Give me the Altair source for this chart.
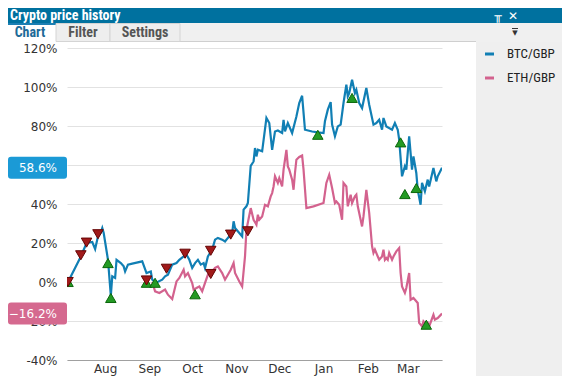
import altair as alt
import pandas as pd

# ---------------- data ----------------
START = "2022-07-06"            # day 0
SERIES = ["BTC/GBP", "ETH/GBP"]
LINE_COLORS = ["#117fb4", "#d3628e"]
BADGE_COLORS = ["#1b9ad6", "#d5698f"]
Y_TICKS = [-40, -20, 0, 20, 40, 60, 80, 100, 120]

btc_day = [0, 9, 13, 17, 19, 21, 23, 24, 25, 28,
           30, 31, 33, 34, 37, 39, 40, 42, 45, 52,
           55, 58, 59, 62, 66, 68, 70, 73, 76, 78,
           81, 83, 85, 87, 89, 91, 93, 95, 96, 98,
           101, 103, 105, 108, 110, 112, 115, 116, 117, 120,
           122, 123, 125, 126, 128, 130, 131, 132, 133, 136,
           139, 141, 143, 145, 147, 150, 151, 152, 154, 157,
           160, 162, 164, 166, 171, 175, 179, 180, 182, 184,
           185, 187, 189, 191, 193, 195, 196, 197, 199, 201,
           202, 204, 206, 209, 211, 214, 216, 218, 220, 221,
           223, 227, 229, 231, 232, 234, 236, 237, 239, 241,
           242, 244, 245, 247, 248, 250, 252, 253, 256, 258,
           259, 262]
btc_pct = [0, 13.1, 20.0, 20.5, 16.9, 23.4, 25.4, 27.7, 25.1, 11.4,
           -7.0, 2.9, 2.1, 11.4, 9.7, 8.0, 5.4, 8.9, 9.4, 10.6,
           4.6, 5.4, 1.2, -0.2, 1.2, 2.9, 3.7, 8.9, 9.7, 11.4,
           13.1, 14.0, 11.4, 7.2, 9.7, 11.4, 8.9, 9.7, 7.2, 13.1,
           16.6, 21.7, 22.6, 21.7, 20.8, 22.6, 25.1, 31.1, 27.7, 25.1,
           23.4, 37.1, 38.8, 40.5, 59.6, 61.8, 68.7, 64.4, 67.8, 67.0,
           84.1, 81.5, 67.8, 77.2, 77.7, 76.4, 83.2, 77.2, 81.5, 76.4,
           84.9, 91.8, 95.5, 78.1, 77.2, 76.7, 76.4, 82.4, 88.4, 92.3,
           80.7, 74.7, 79.8, 80.7, 91.8, 101.2, 95.2, 96.9, 103.7, 96.9,
           98.6, 91.8, 89.2, 99.5, 90.9, 80.7, 81.5, 83.2, 78.1, 84.1,
           79.8, 78.1, 81.5, 78.1, 73.0, 54.2, 59.3, 57.6, 74.7, 57.6,
           64.4, 55.9, 47.3, 39.6, 50.8, 46.5, 52.5, 49.0, 58.5, 51.6,
           54.2, 58.6]

eth_day = [59, 61, 64, 68, 70, 73, 76, 78, 81, 82,
           84, 87, 88, 90, 92, 94, 96, 98, 101, 103,
           105, 108, 110, 112, 114, 116, 117, 120, 122, 124,
           125, 128, 130, 132, 133, 134, 136, 138, 140, 142,
           143, 144, 145, 147, 148, 150, 151, 152, 153, 154,
           155, 157, 158, 159, 160, 162, 164, 165, 167, 172,
           179, 181, 183, 185, 187, 188, 190, 192, 193, 195,
           196, 198, 199, 201, 202, 203, 204, 206, 207, 209,
           211, 213, 214, 215, 217, 218, 220, 221, 222, 223,
           224, 225, 227, 228, 230, 232, 233, 234, 236, 237,
           239, 240, 242, 245, 246, 248, 249, 251, 252, 253,
           256, 257, 259, 262]
eth_pct = [0, -4.8, -5.6, -3.9, -6.5, -8.7, 0.3, 2.1, 6.3, 2.9,
           4.6, -0.5, -3.9, -3.1, -2.3, -4.8, -0.5, 3.7, 5.4, 7.2,
           8.0, 4.6, 1.2, 3.7, 6.3, 9.7, 4.6, 0.3, -2.3, 13.1,
           26.8, 37.9, 31.9, 29.4, 34.5, 31.9, 33.6, 39.6, 38.8, 43.9,
           45.6, 49.0, 54.2, 50.8, 53.3, 49.0, 57.6, 62.7, 67.8, 59.3,
           57.6, 52.5, 47.3, 55.9, 62.7, 64.1, 64.9, 57.6, 37.9, 38.8,
           40.5, 50.8, 55.0, 48.2, 40.5, 41.3, 39.6, 31.9, 50.8, 49.0,
           38.8, 44.8, 40.5, 43.9, 44.8, 38.8, 35.4, 28.5, 33.6, 47.3,
           35.4, 18.3, 14.9, 16.6, 13.1, 11.4, 13.1, 16.6, 11.4, 12.3,
           11.4, 14.9, 11.4, 13.1, 15.7, 17.4, 4.6, -2.3, -5.6, -3.1,
           4.6, -9.1, -8.2, -10.8, -21.0, -22.8, -20.2, -21.9, -21.0, -22.8,
           -16.8, -19.3, -18.5, -16.2]

sell_day = [0, 9, 13, 21, 55, 69, 82, 100, 100, 114, 126]
sell_pct = [0, 13.7, 20.2, 24.5, 0.8, 6.8, 14.5, 16.0, 4.1, 24.3, 26.0]
buy_day = [0, 28, 30, 55, 61, 89, 175, 199, 233, 236, 244, 251]
buy_pct = [0, 9.7, -8.2, -0.4, -0.4, -6.3, 75.5, 94.4, 71.6, 45.1, 48.2, -21.9]

# ---------------- tables ----------------
def to_dates(days):
    return pd.Timestamp(START) + pd.to_timedelta(days, unit="D")

lines = pd.concat([
    pd.DataFrame({"series": SERIES[0], "date": to_dates(btc_day), "pct": btc_pct}),
    pd.DataFrame({"series": SERIES[1], "date": to_dates(eth_day), "pct": eth_pct}),
], ignore_index=True)
last = lines.groupby("series").tail(1).reset_index(drop=True)
sells = pd.DataFrame({"date": to_dates(sell_day), "pct": sell_pct})
buys = pd.DataFrame({"date": to_dates(buy_day), "pct": buy_pct})

UI_FONT = "Liberation Sans Narrow, Arial Narrow, Roboto Condensed, Liberation Sans, sans-serif"
AX_FONT = "DejaVu Sans"

x_enc = alt.X(
    "date:T",
    scale=alt.Scale(domain=[alt.DateTime(year=2022, month=7, date=5, hours=7),
                            alt.DateTime(year=2023, month=3, date=25)], nice=False),
    axis=alt.Axis(format="%b", tickCount=alt.TimeIntervalStep(interval="month", step=1),
                  grid=False, ticks=False, domainColor="#a0a0a0", domainWidth=1,
                  labelFont=AX_FONT, labelFontSize=12, labelColor="#333333",
                  labelPadding=3, labelOverlap=False, title=None),
)
y_enc = alt.Y(
    "pct:Q",
    scale=alt.Scale(domain=[-40, 120], nice=False, zero=False),
    axis=alt.Axis(values=Y_TICKS, labelExpr="datum.value + '%'", ticks=False, domain=False,
                  gridColor="#e2e2e2", gridWidth=1, labelPadding=10,
                  labelOverlap=False, labelBound=False, labelFlush=False,
                  labelFont=AX_FONT, labelFontSize=12, labelColor="#333333", title=None),
)

line_layer = alt.Chart(lines).mark_line(strokeWidth=2.2, clip=True).encode(
    x=x_enc, y=y_enc,
    color=alt.Color("series:N", scale=alt.Scale(domain=SERIES, range=LINE_COLORS),
                    legend=alt.Legend(orient="none", legendX=416, legendY=-0.5, title=None,
                                      symbolType="stroke", symbolSize=81, symbolStrokeWidth=3,
                                      labelFont=UI_FONT, labelFontSize=13, labelColor="#222222",
                                      labelOffset=11, rowPadding=10, padding=0)),
    order="date:T",
)

buy_layer = alt.Chart(buys).mark_point(shape="triangle-up", size=110, filled=True, fill="#239a23",
                                       stroke="#0b660b", strokeWidth=1, opacity=1, clip=True).encode(
    x=x_enc, y=y_enc)
sell_layer = alt.Chart(sells).mark_point(shape="triangle-down", size=110, filled=True, fill="#a01a1a",
                                         stroke="#650404", strokeWidth=1, opacity=1, clip=True).encode(
    x=x_enc, y=y_enc)

BADGE = ("M-0.898,-0.373 L0.898,-0.373 Q1,-0.373 1,-0.271 L1,0.271 Q1,0.373 0.898,0.373 "
         "L-0.898,0.373 Q-1,0.373 -1,0.271 L-1,-0.271 Q-1,-0.373 -0.898,-0.373 Z")
badge_layer = alt.Chart(last).mark_point(shape=BADGE, size=3481, filled=True, opacity=1,
                                         strokeWidth=0).encode(
    x=alt.value(-29.5), y=y_enc,
    fill=alt.Fill("series:N", scale=alt.Scale(domain=SERIES, range=BADGE_COLORS), legend=None),
)
badge_text = alt.Chart(last).transform_calculate(
    label="format(datum.pct, '.1f') + '%'"
).mark_text(align="right", baseline="middle", font=AX_FONT, fontSize=12, color="white").encode(
    x=alt.value(-10), y=y_enc, text="label:N")

# ---------------- window chrome ----------------
one = alt.Data(values=[{"k": 0}])

def box(x, x2, y, y2, fill, stroke=None):
    kw = {"fill": fill}
    if stroke:
        kw.update(stroke=stroke, strokeWidth=1)
    else:
        kw.update(strokeWidth=0)
    return alt.Chart(one).mark_rect(**kw).encode(
        x=alt.value(x), x2=alt.value(x2), y=alt.value(y), y2=alt.value(y2))

def txt(s, x, y, color, size=13, weight="bold", align="center", font=UI_FONT):
    return alt.Chart(one).mark_text(text=s, align=align, baseline="middle", font=font,
                                    fontSize=size, fontWeight=weight, color=color).encode(
        x=alt.value(x), y=alt.value(y))

chrome = [
    box(409, 500, -6, 330, "#efefef"),            # legend panel
    box(-60, 500, -25, -6, "#f0f0f0"),            # tab strip
    box(-11, 409, -7, -6, "#cfcfcf"),             # strip bottom border
    box(-60, -11, -23, -6, "#ffffff"),            # active tab
    box(-60, -11, -25, -23, "#1b7fb3"),           # active tab top bar
    box(-11, 43, -24.5, -6.5, "#eeeeee", "#d4d4d4"),
    box(43, 113, -24.5, -6.5, "#eeeeee", "#d4d4d4"),
    box(-60, 500, -40, -25, "#00719f"),           # title bar
    txt("Crypto price history", -57, -32.5, "#ffffff", size=14, align="left"),
    txt("╥", 431, -32.5, "#ffffff", size=12, weight="bold", font="DejaVu Sans"),
    txt("✕", 446, -32.5, "#ffffff", size=12, font="DejaVu Sans"),
    txt("Chart", -37, -15, "#1d6a98", size=14),
    txt("Filter", 16, -15, "#555555", size=14),
    txt("Settings", 78, -15, "#555555", size=14),
    box(445, 451, -20, -19, "#333333"),
    txt("▼", 448, -15.5, "#333333", size=7, weight="normal", font="DejaVu Sans"),
]

chart = alt.layer(
    *chrome, line_layer, buy_layer, sell_layer, badge_layer, badge_text
).properties(
    width=375, height=312, autosize="none",
    padding={"left": 59, "top": 40, "right": 120, "bottom": 16},
).configure(background="white").configure_view(stroke=None).configure_axis(labelOverlap=False)

chart.save("out.html", embed_options={"renderer": "svg", "actions": False})
